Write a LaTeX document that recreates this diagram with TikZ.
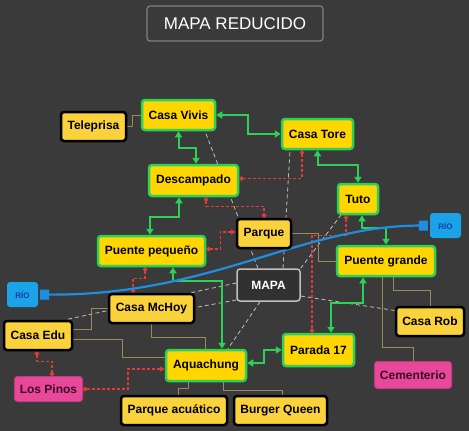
\documentclass[tikz,border=0pt]{standalone}
\usepackage{fontspec}
\setmainfont{Liberation Sans}
\usetikzlibrary{arrows.meta,calc,backgrounds}
\definecolor{fondo}{HTML}{3A3A3A}
\definecolor{amarillo}{HTML}{FFD600}
\definecolor{amarillob}{HTML}{FAD23C}
\definecolor{verde}{HTML}{2ED158}
\definecolor{rosa}{HTML}{E8489A}
\definecolor{rosaborde}{HTML}{C23A80}
\definecolor{textorosa}{HTML}{3A0A22}
\definecolor{azul}{HTML}{1AA3E8}
\definecolor{azultexto}{HTML}{1040A0}
\definecolor{azulrio}{HTML}{1E8FE0}
\definecolor{ocre}{HTML}{9C8A5A}
\definecolor{rojo}{HTML}{E03A3A}
\definecolor{gris}{HTML}{C0C0C0}
\begin{document}
\begin{tikzpicture}[x=1pt,y=-1pt,
  sz/.style 2 args={minimum width=#1pt, minimum height=#2pt},
  caja/.style={rounded corners=3pt, line width=2.5pt, inner sep=0pt, text=black,
    font=\bfseries\fontsize{12}{14}\selectfont},
  verdebox/.style={caja, fill=amarillo, draw=verde},
  negrabox/.style={caja, fill=amarillob, draw=black},
  rosabox/.style={caja, fill=rosa, draw=rosaborde, line width=1pt, text=textorosa},
  riobox/.style={rounded corners=3pt, inner sep=0pt, fill=azul, text=azultexto,
    font=\bfseries\fontsize{8}{9}\selectfont},
  mapabox/.style={rounded corners=3pt, line width=1.5pt, inner sep=0pt, fill=fondo!85!black,
    draw=gris, text=white, font=\bfseries\fontsize{12}{14}\selectfont},
  titulobox/.style={rounded corners=3pt, line width=1.2pt, inner sep=0pt, fill=fondo,
    draw=gray, text=white, font=\fontsize{17}{20}\selectfont},
  conexion/.style={draw=verde, line width=2pt, <->, >={Triangle[width=7pt,length=6pt]}},
  relacion/.style={draw=rojo, line width=1.2pt, dash pattern=on 3pt off 2pt,
    arrows={Circle[length=4.5pt]-Circle[length=4.5pt]}},
  relacionflecha/.style={draw=rojo, line width=1.2pt, dash pattern=on 3pt off 2pt,
    arrows={Circle[length=4.5pt]-Triangle[length=5pt,width=5pt]}},
  rama/.style={draw=ocre, line width=0.9pt},
  enlace/.style={draw=gris, line width=0.8pt, dash pattern=on 4pt off 3pt},
  rio/.style={draw=azulrio, line width=2.2pt, shorten <=2pt, shorten >=2pt,
    arrows={Square[length=9pt,width=10pt]-Square[length=9pt,width=10pt]}}]

  % nodos
  \node[titulobox, sz={176}{35}] (titulo) at (235,23.5) {MAPA REDUCIDO};
  \node[negrabox, sz={65}{29}] (teleprisa) at (93.5,126.5) {Teleprisa};
  \node[verdebox, sz={73}{30}] (vivis) at (178.5,115) {Casa Vivis};
  \node[verdebox, sz={71}{30}] (tore) at (317.5,134) {Casa Tore};
  \node[verdebox, sz={89}{31}] (descampado) at (193.5,180.5) {Descampado};
  \node[verdebox, sz={40}{30}] (tuto) at (358,199) {Tuto};
  \node[negrabox, sz={54}{29}] (parque) at (264,233.5) {Parque};
  \node[verdebox, sz={107}{30}] (ppequeno) at (151.5,251) {Puente pequeño};
  \node[verdebox, sz={98}{30}] (pgrande) at (386,261) {Puente grande};
  \node[mapabox, sz={63}{32}] (mapa) at (268.5,285) {MAPA};
  \node[riobox, sz={31}{25}] (rioL) at (22.5,294.5) {RÍO};
  \node[riobox, sz={31}{25}] (rioR) at (445.5,225.5) {RÍO};
  \node[negrabox, sz={85}{29}] (mchoy) at (151.5,308.5) {Casa McHoy};
  \node[negrabox, sz={68}{29}] (edu) at (38,335.5) {Casa Edu};
  \node[verdebox, sz={80}{31}] (aqua) at (206,365.5) {Aquachung};
  \node[verdebox, sz={71}{32}] (parada) at (318.5,350) {Parada 17};
  \node[negrabox, sz={68}{29}] (rob) at (430,321.5) {Casa Rob};
  \node[rosabox, sz={77}{27}] (cementerio) at (413,375) {Cementerio};
  \node[rosabox, sz={68}{25}] (pinos) at (48.5,389) {Los Pinos};
  \node[negrabox, sz={106}{29}] (pacuatico) at (174,410.5) {Parque acuático};
  \node[negrabox, sz={93}{29}] (burger) at (280.5,410.5) {Burger Queen};

  \begin{scope}[on background layer]
    \fill[fondo] (0,0) rectangle (469,431);
    % enlaces al mapa
    \draw[enlace] ($(mapa.north)+(-10.5,0)$) -- ($(vivis.south)+(26.5,0)$);
    \draw[enlace] ($(mapa.north)+(14.5,0)$) -- ($(tore.south)+(-27.5,0)$);
    \draw[enlace] (mapa.north east) -- ($(tuto.south west)+(4,0)$);
    \draw[enlace] ($(mapa.east)+(0,11)$) -- ($(rob.west)+(0,-11)$);
    \draw[enlace] ($(mapa.south)+(-8.5,0)$) -- ($(aqua.north)+(22,0)$);
    \draw[enlace] ($(mapa.west)+(0,15)$) -- ($(mchoy.east)+(0,-1)$);
    \draw[enlace] ($(mapa.west)+(0,-2)$) -- ($(edu.north east)+(-8,0)$);
    % ramas
    \draw[rama] (teleprisa.east) -- ++(5,0) |- (vivis.west);
    \draw[rama] (parque.east) -- ++(26,0) |- (pgrande.west);
    \draw[rama] ($(pgrande.south)+(7,0)$) -- ++(0,13) -| (rob.north);
    \draw[rama] ($(pgrande.south)+(-4,0)$) -- ++(0,70) -| (cementerio.north);
    \draw[rama] (mchoy.west) -- ++(-16,0) |- ($(edu.east)+(0,-6.5)$);
    \draw[rama] ($(edu.east)+(0,3.5)$) -- ++(49,0) |- ($(aqua.west)+(0,-8.5)$);
    \draw[rama] (mchoy.south) -- ++(0,13) -| ($(aqua.north)+(-1,0)$);
    \draw[rama] ($(aqua.south)+(-18,0)$) -- ++(0,6) -| ($(pacuatico.north)+(4,0)$);
    \draw[rama] ($(aqua.south)+(17,0)$) -- ++(0,8) -| ($(burger.north)+(1.5,0)$);
    % relaciones
    \draw[relacion] ($(tore.south)+(-15.5,0)$) |- ($(descampado.east)+(0,-2)$);
    \draw[relacion] ($(descampado.south)+(12.5,0)$) -- ++(0,9) -| (parque.north);
    \draw[relacionflecha] ($(ppequeno.east)+(0,-2)$) -- ++(14,0) |- ($(parque.west)+(0,-1.5)$);
    \draw[relacion] ($(tuto.south)+(-12,0)$) -- ++(0,20) -| ($(parada.north)+(-6.5,0)$);
    \draw[relacion] ($(ppequeno.south)+(-6.5,0)$) -- ++(0,11) -| ($(mchoy.north)+(-18.5,0)$);
    \draw[relacion] ($(edu.south)+(-1,0)$) -- ++(0,10) -| ($(pinos.north)+(3.5,0)$);
    \draw[relacionflecha] (pinos.east) -- ++(45,0) |- ($(aqua.west)+(0,3.5)$);
    % conexiones
    \draw[conexion] (vivis.east) -- ++(32,0) |- (tore.west);
    \draw[conexion] (vivis.south) -- ++(0,17) -| ($(descampado.north)+(2.5,0)$);
    \draw[conexion] ($(descampado.south)+(-14.5,0)$) -- ++(0,20) -| ($(ppequeno.north)+(-1.5,0)$);
    \draw[conexion] (tore.south) -- ++(0,15) -| (tuto.north);
    \draw[conexion] ($(tuto.south)+(4,0)$) -- ++(0,13) -| (pgrande.north);
    \draw[conexion] ($(pgrande.south)+(-23,0)$) -- ++(0,26) -| ($(parada.north)+(12.5,0)$);
    \draw[conexion] ($(aqua.east)+(0,-2.5)$) -- ++(17,0) |- (parada.west);
    \draw[conexion] ($(ppequeno.south)+(21.5,0)$) -- ++(0,14) -| ($(aqua.north)+(16,0)$);
    % rio
    \draw[rio] (rioL.east) .. controls (210,296) and (300,226) .. (rioR.west);
  \end{scope}
\end{tikzpicture}
\end{document}
